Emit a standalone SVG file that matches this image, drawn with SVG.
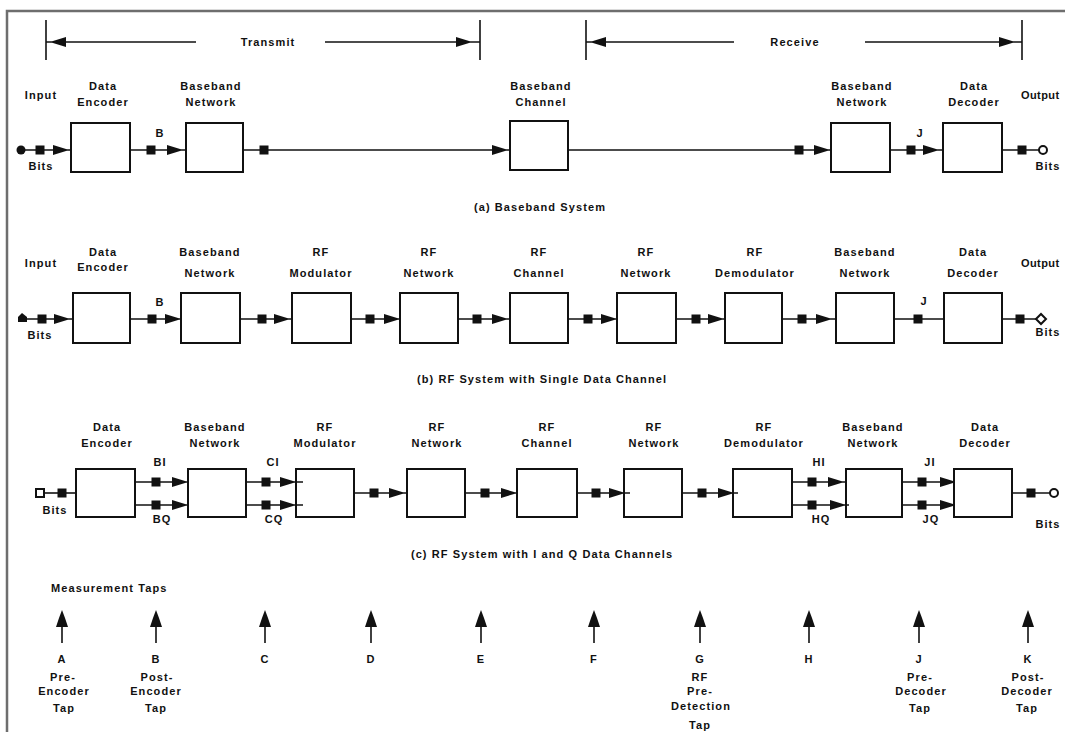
<svg xmlns="http://www.w3.org/2000/svg" width="1065" height="732" viewBox="0 0 1065 732">
<style>
.t{font-family:"Liberation Sans",Arial,sans-serif;font-size:11px;font-weight:bold;letter-spacing:1.1px;fill:#111;text-anchor:middle}
.s{text-anchor:start}
.box{fill:#fff;stroke:#111;stroke-width:2}
.ln{stroke:#111;stroke-width:1.6;fill:none}
.fill{fill:#111}
.open{fill:#fff;stroke:#111;stroke-width:2}
.frame{stroke:#6e6e6e;stroke-width:2.5;fill:none}
</style>
<defs>
<rect id="sq" x="-4.5" y="-4.5" width="9" height="9" fill="#111"/>
<polygon id="ar" points="-14,-5 -1,-1 0,0 -1,1 -14,5" fill="#111"/>
<polygon id="al" points="14,-5 1,-1 0,0 1,1 14,5" fill="#111"/>
<g id="tap"><polygon points="0,0 -3,8 -6,17 6,17 3,8" fill="#111"/><line x1="0" y1="17" x2="0" y2="33" stroke="#111" stroke-width="1.6"/></g>
</defs>
<rect width="1065" height="732" fill="#fff"/>
<path class="frame" d="M7,732 V11 H1065"/>

<g id="brackets">
<line class="ln" x1="46" y1="20" x2="46" y2="60"/>
<line class="ln" x1="46" y1="42" x2="196" y2="42"/>
<use href="#al" x="52" y="42"/>
<text class="t" x="268" y="46">Transmit</text>
<line class="ln" x1="325" y1="42" x2="480" y2="42"/>
<use href="#ar" x="470" y="42"/>
<line class="ln" x1="480" y1="20" x2="480" y2="60"/>
<line class="ln" x1="586" y1="20" x2="586" y2="60"/>
<line class="ln" x1="586" y1="42" x2="734" y2="42"/>
<use href="#al" x="592" y="42"/>
<text class="t" x="795" y="46">Receive</text>
<line class="ln" x1="865" y1="42" x2="1022" y2="42"/>
<use href="#ar" x="1013" y="42"/>
<line class="ln" x1="1022" y1="20" x2="1022" y2="60"/>
</g>

<!-- Row (a) -->
<g id="a-encoder"><rect class="box" x="71" y="123" width="59" height="49"/><text class="t" x="103" y="90">Data</text><text class="t" x="103" y="106">Encoder</text></g>
<g id="a-bbnet1"><rect class="box" x="186" y="123" width="57" height="49"/><text class="t" x="211" y="90">Baseband</text><text class="t" x="211" y="106">Network</text></g>
<g id="a-channel"><rect class="box" x="510" y="121" width="58" height="49"/><text class="t" x="541" y="90">Baseband</text><text class="t" x="541" y="106">Channel</text></g>
<g id="a-bbnet2"><rect class="box" x="831" y="123" width="59" height="49"/><text class="t" x="862" y="90">Baseband</text><text class="t" x="862" y="106">Network</text></g>
<g id="a-decoder"><rect class="box" x="943" y="123" width="59" height="49"/><text class="t" x="974" y="90">Data</text><text class="t" x="974" y="106">Decoder</text></g>
<g id="a-io">
<text class="t" x="41" y="99">Input</text>
<text class="t" x="41" y="170">Bits</text>
<text class="t s" x="1021" y="99" style="letter-spacing:0.4px">Output</text>
<text class="t" x="1048" y="170">Bits</text>
<text class="t" x="160" y="137">B</text>
<text class="t" x="920" y="137">J</text>
<text class="t" x="540" y="211">(a) Baseband System</text>
</g>

<!-- Row (b) -->
<g id="b-encoder"><rect class="box" x="73" y="293" width="57" height="50"/><text class="t" x="103" y="256">Data</text><text class="t" x="103" y="271">Encoder</text></g>
<g id="b-bbnet1"><rect class="box" x="181" y="293" width="59" height="50"/><text class="t" x="210" y="256">Baseband</text><text class="t" x="210" y="277">Network</text></g>
<g id="b-mod"><rect class="box" x="292" y="293" width="59" height="50"/><text class="t" x="321" y="256">RF</text><text class="t" x="321" y="277">Modulator</text></g>
<g id="b-rfnet1"><rect class="box" x="400" y="293" width="58" height="50"/><text class="t" x="429" y="256">RF</text><text class="t" x="429" y="277">Network</text></g>
<g id="b-channel"><rect class="box" x="510" y="293" width="58" height="50"/><text class="t" x="539" y="256">RF</text><text class="t" x="539" y="277">Channel</text></g>
<g id="b-rfnet2"><rect class="box" x="617" y="293" width="59" height="50"/><text class="t" x="646" y="256">RF</text><text class="t" x="646" y="277">Network</text></g>
<g id="b-demod"><rect class="box" x="725" y="293" width="57" height="50"/><text class="t" x="755" y="256">RF</text><text class="t" x="755" y="277">Demodulator</text></g>
<g id="b-bbnet2"><rect class="box" x="836" y="293" width="58" height="50"/><text class="t" x="865" y="256">Baseband</text><text class="t" x="865" y="277">Network</text></g>
<g id="b-decoder"><rect class="box" x="944" y="293" width="58" height="50"/><text class="t" x="973" y="256">Data</text><text class="t" x="973" y="277">Decoder</text></g>
<g id="b-io">
<text class="t" x="41" y="267">Input</text>
<text class="t" x="40" y="339">Bits</text>
<text class="t s" x="1021" y="267" style="letter-spacing:0.4px">Output</text>
<text class="t" x="1048" y="336">Bits</text>
<text class="t" x="160" y="306">B</text>
<text class="t" x="924" y="305">J</text>
<text class="t" x="542" y="383">(b) RF System with Single Data Channel</text>
</g>

<!-- Row (c) -->
<g id="c-encoder"><rect class="box" x="76" y="469" width="59" height="48"/><text class="t" x="107" y="431">Data</text><text class="t" x="107" y="447">Encoder</text></g>
<g id="c-bbnet1"><rect class="box" x="188" y="469" width="58" height="48"/><text class="t" x="215" y="431">Baseband</text><text class="t" x="215" y="447">Network</text></g>
<g id="c-mod"><rect class="box" x="296" y="469" width="58" height="48"/><text class="t" x="325" y="431">RF</text><text class="t" x="325" y="447">Modulator</text></g>
<g id="c-rfnet1"><rect class="box" x="407" y="469" width="58" height="48"/><text class="t" x="437" y="431">RF</text><text class="t" x="437" y="447">Network</text></g>
<g id="c-channel"><rect class="box" x="517" y="469" width="60" height="48"/><text class="t" x="547" y="431">RF</text><text class="t" x="547" y="447">Channel</text></g>
<g id="c-rfnet2"><rect class="box" x="624" y="469" width="58" height="48"/><text class="t" x="654" y="431">RF</text><text class="t" x="654" y="447">Network</text></g>
<g id="c-demod"><rect class="box" x="733" y="469" width="59" height="48"/><text class="t" x="764" y="431">RF</text><text class="t" x="764" y="447">Demodulator</text></g>
<g id="c-bbnet2"><rect class="box" x="846" y="469" width="56" height="48"/><text class="t" x="873" y="431">Baseband</text><text class="t" x="873" y="447">Network</text></g>
<g id="c-decoder"><rect class="box" x="954" y="469" width="58" height="48"/><text class="t" x="985" y="431">Data</text><text class="t" x="985" y="447">Decoder</text></g>
<g id="c-io">
<text class="t" x="55" y="514">Bits</text>
<text class="t" x="1048" y="528">Bits</text>
<text class="t" x="160" y="466">BI</text>
<text class="t" x="162" y="523">BQ</text>
<text class="t" x="273" y="466">CI</text>
<text class="t" x="274" y="523">CQ</text>
<text class="t" x="819" y="466">HI</text>
<text class="t" x="821" y="523">HQ</text>
<text class="t" x="930" y="466">JI</text>
<text class="t" x="931" y="523">JQ</text>
<text class="t" x="542" y="558">(c) RF System with I and Q Data Channels</text>
</g>

<g id="connectors">
<!-- row a -->
<line class="ln" x1="21" y1="150" x2="71" y2="150"/>
<circle cx="21" cy="150" r="4.5" class="fill"/>
<use href="#sq" x="40" y="150"/><use href="#ar" x="67" y="150"/>
<line class="ln" x1="130" y1="150" x2="186" y2="150"/>
<use href="#sq" x="151" y="150"/><use href="#ar" x="181" y="150"/>
<line class="ln" x1="243" y1="150" x2="510" y2="150"/>
<use href="#sq" x="264" y="150"/><use href="#ar" x="506" y="150"/>
<line class="ln" x1="568" y1="150" x2="831" y2="150"/>
<use href="#sq" x="799" y="150"/><use href="#ar" x="828" y="150"/>
<line class="ln" x1="890" y1="150" x2="943" y2="150"/>
<use href="#sq" x="911" y="150"/><use href="#ar" x="937" y="150"/>
<line class="ln" x1="1002" y1="150" x2="1040" y2="150"/>
<use href="#sq" x="1022" y="150"/>
<circle cx="1043" cy="150" r="4" class="open"/>
<!-- row b -->
<line class="ln" x1="22" y1="319" x2="73" y2="319"/>
<polygon points="18,322 18,317 22,313 27,317 27,322" class="fill"/>
<use href="#sq" x="42" y="319"/><use href="#ar" x="68" y="319"/>
<line class="ln" x1="130" y1="319" x2="181" y2="319"/>
<use href="#sq" x="152" y="319"/><use href="#ar" x="179" y="319"/>
<line class="ln" x1="240" y1="319" x2="292" y2="319"/>
<use href="#sq" x="262" y="319"/><use href="#ar" x="288" y="319"/>
<line class="ln" x1="351" y1="319" x2="400" y2="319"/>
<use href="#sq" x="370" y="319"/><use href="#ar" x="398" y="319"/>
<line class="ln" x1="458" y1="319" x2="510" y2="319"/>
<use href="#sq" x="477" y="319"/><use href="#ar" x="506" y="319"/>
<line class="ln" x1="568" y1="319" x2="617" y2="319"/>
<use href="#sq" x="588" y="319"/><use href="#ar" x="615" y="319"/>
<line class="ln" x1="676" y1="319" x2="725" y2="319"/>
<use href="#sq" x="696" y="319"/><use href="#ar" x="722" y="319"/>
<line class="ln" x1="782" y1="319" x2="836" y2="319"/>
<use href="#sq" x="802" y="319"/><use href="#ar" x="830" y="319"/>
<line class="ln" x1="894" y1="319" x2="944" y2="319"/>
<use href="#sq" x="918" y="319"/>
<line class="ln" x1="1002" y1="319" x2="1036" y2="319"/>
<use href="#sq" x="1020" y="319"/>
<polygon points="1036,319 1041,314 1046,319 1041,324" class="open"/>
<!-- row c -->
<line class="ln" x1="44" y1="493" x2="76" y2="493"/>
<rect x="36" y="489" width="8" height="8" class="open"/>
<use href="#sq" x="62" y="493"/>
<line class="ln" x1="135" y1="482" x2="188" y2="482"/><line class="ln" x1="135" y1="505" x2="188" y2="505"/>
<use href="#sq" x="156" y="482"/><use href="#ar" x="186" y="482"/>
<use href="#sq" x="156" y="505"/><use href="#ar" x="186" y="505"/>
<line class="ln" x1="246" y1="482" x2="303" y2="482"/><line class="ln" x1="246" y1="505" x2="303" y2="505"/>
<use href="#sq" x="266" y="482"/><use href="#ar" x="294" y="482"/>
<use href="#sq" x="266" y="505"/><use href="#ar" x="294" y="505"/>
<line class="ln" x1="354" y1="493" x2="407" y2="493"/>
<use href="#sq" x="374" y="493"/><use href="#ar" x="403" y="493"/>
<line class="ln" x1="465" y1="493" x2="517" y2="493"/>
<use href="#sq" x="485" y="493"/><use href="#ar" x="515" y="493"/>
<line class="ln" x1="577" y1="493" x2="630" y2="493"/>
<use href="#sq" x="596" y="493"/><use href="#ar" x="623" y="493"/>
<line class="ln" x1="682" y1="493" x2="738" y2="493"/>
<use href="#sq" x="702" y="493"/><use href="#ar" x="732" y="493"/>
<line class="ln" x1="792" y1="482" x2="846" y2="482"/><line class="ln" x1="792" y1="505" x2="849" y2="505"/>
<use href="#sq" x="812" y="482"/><use href="#ar" x="842" y="482"/>
<use href="#sq" x="812" y="505"/><use href="#ar" x="844" y="505"/>
<line class="ln" x1="902" y1="482" x2="954" y2="482"/><line class="ln" x1="902" y1="505" x2="954" y2="505"/>
<use href="#sq" x="922" y="482"/><use href="#ar" x="954" y="482"/>
<use href="#sq" x="922" y="505"/><use href="#ar" x="954" y="505"/>
<line class="ln" x1="1012" y1="493" x2="1050" y2="493"/>
<use href="#sq" x="1031" y="493"/>
<circle cx="1054" cy="493" r="4" class="open"/>
</g>

<g id="taps">
<text class="t s" x="51" y="592">Measurement Taps</text>
<use href="#tap" x="62" y="610"/><use href="#tap" x="156" y="610"/><use href="#tap" x="265" y="610"/>
<use href="#tap" x="371" y="610"/><use href="#tap" x="481" y="610"/><use href="#tap" x="594" y="610"/>
<use href="#tap" x="700" y="610"/><use href="#tap" x="809" y="610"/><use href="#tap" x="919" y="610"/>
<use href="#tap" x="1028" y="610"/>
<text class="t" x="62" y="663">A</text><text class="t" x="63" y="681">Pre-</text><text class="t" x="64" y="695">Encoder</text><text class="t" x="64" y="712">Tap</text>
<text class="t" x="156" y="663">B</text><text class="t" x="157" y="681">Post-</text><text class="t" x="156" y="695">Encoder</text><text class="t" x="156" y="712">Tap</text>
<text class="t" x="265" y="663">C</text>
<text class="t" x="371" y="663">D</text>
<text class="t" x="481" y="663">E</text>
<text class="t" x="594" y="663">F</text>
<text class="t" x="700" y="663">G</text><text class="t" x="700" y="681">RF</text><text class="t" x="700" y="695">Pre-</text><text class="t" x="701" y="710">Detection</text><text class="t" x="700" y="729">Tap</text>
<text class="t" x="809" y="663">H</text>
<text class="t" x="919" y="663">J</text><text class="t" x="920" y="681">Pre-</text><text class="t" x="921" y="695">Decoder</text><text class="t" x="920" y="712">Tap</text>
<text class="t" x="1028" y="663">K</text><text class="t" x="1028" y="681">Post-</text><text class="t" x="1027" y="695">Decoder</text><text class="t" x="1027" y="712">Tap</text>
</g>
</svg>
